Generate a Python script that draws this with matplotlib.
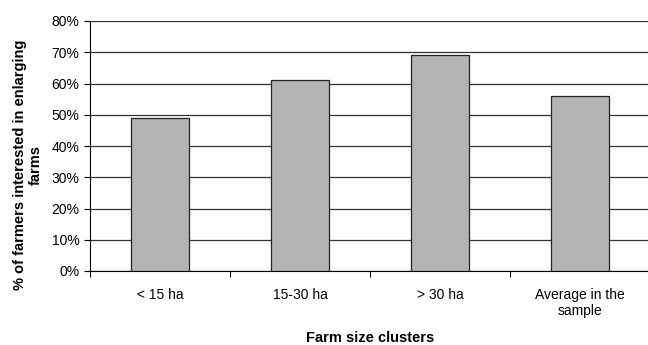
import numpy as np
import matplotlib.pyplot as plt

plt.rcParams['font.family'] = ['Liberation Sans', 'DejaVu Sans']

# farm size groups and share of farmers wanting to enlarge
categories = ['< 15 ha', '15-30 ha', '> 30 ha', 'Average in the\nsample']
shares = [49, 61, 69, 56]

fig = plt.figure(figsize=(6.48, 3.45), dpi=100)
ax = fig.add_axes([90/648, 1 - 271/345, 560/648, 250/345])

x = np.arange(len(categories))
ax.bar(x, shares, width=0.41, color='#b3b3b3', edgecolor='#222222', linewidth=0.9, zorder=3)

ax.set_xlim(-0.5, len(categories) - 0.5)
ax.set_ylim(0, 80)
ax.set_yticks(range(0, 81, 10))
ax.set_yticklabels([f'{v}%' for v in range(0, 81, 10)], fontsize=10)
ax.yaxis.grid(True, color='#333333', linewidth=0.9, zorder=0)

# category labels centred, tick marks on the boundaries
ax.set_xticks(x)
ax.set_xticklabels(categories, fontsize=10)
ax.tick_params(axis='x', length=0, pad=12)
ax.set_xticks(np.arange(-0.5, len(categories)), minor=True)
ax.tick_params(axis='x', which='minor', length=4, direction='out', width=0.8)
ax.tick_params(axis='y', length=4, width=0.8, direction='out')

for side in ['top', 'right']:
    ax.spines[side].set_visible(False)
ax.spines['left'].set_color('black')
ax.spines['bottom'].set_color('black')

# axis titles placed on the figure
fig.text(28/648, 1 - 165/345, '% of farmers interested in enlarging\nfarms',
         rotation=90, ha='center', va='center', multialignment='center',
         fontsize=10.5, fontweight='bold')
fig.text(370/648, 1 - 338/345, 'Farm size clusters', ha='center', va='center',
         fontsize=10.5, fontweight='bold')

plt.savefig('out.png', dpi=100)
